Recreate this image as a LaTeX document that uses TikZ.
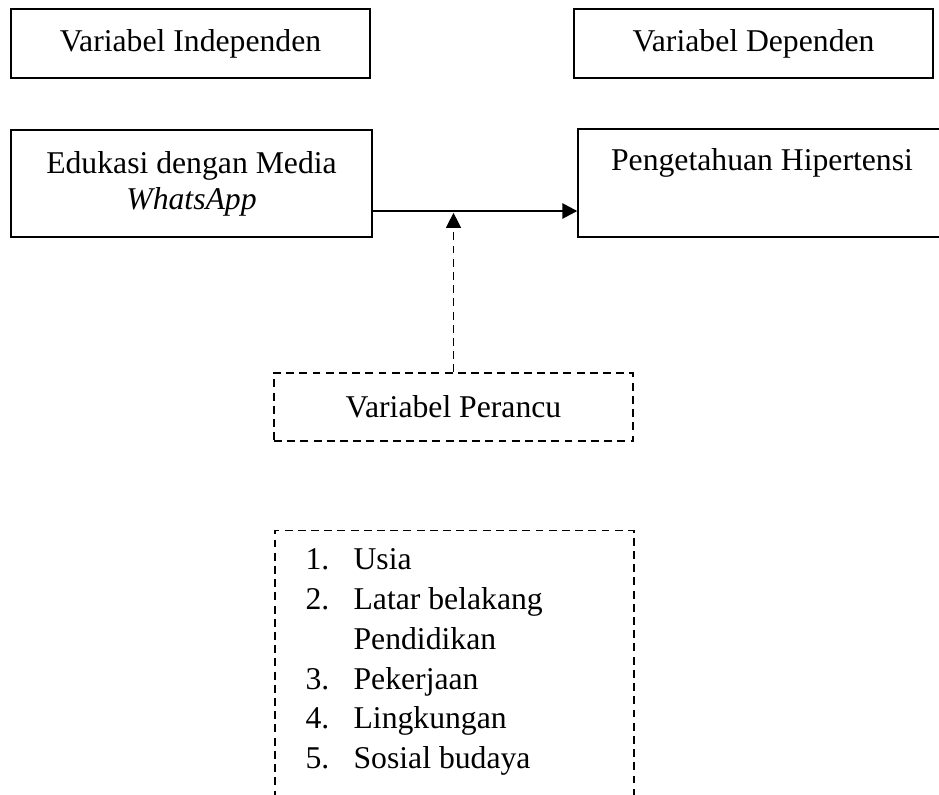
\documentclass[tikz,border=0pt]{standalone}
\usepackage{fontspec}
\setmainfont{Liberation Serif}
\usetikzlibrary{
    arrows.meta,
    calc
}
\newcommand{\sat}{0.3786pt}

\begin{document}
\begin{tikzpicture}[x=\sat, y=-\sat,
    garis/.style={draw, line width=0.5pt, inner sep=0pt, font=\fontsize{12}{13.6}\selectfont},
    kotak/.style={garis, align=center},
    putus/.style={kotak, dash pattern=on 3pt off 2pt},
    panah/.style={line width=1pt, -{Triangle[length=5.7pt, width=5.7pt]}}]
    \useasboundingbox (0, 0) rectangle (939, 794);
    \clip (0, 0) rectangle (939, 794);
    % variabel
    \node[kotak, minimum width=359*\sat, minimum height=69*\sat] (indep) at (190.5, 43.5) {Variabel Independen};
    \node[kotak, minimum width=359*\sat, minimum height=69*\sat] (dep) at (753.5, 43.5) {Variabel Dependen};
    \node[kotak, minimum width=361*\sat, minimum height=107*\sat] (edu) at (191.5, 183.5) {Edukasi dengan Media\\\textit{WhatsApp}};
    \node[garis, minimum width=368*\sat, minimum height=108*\sat,
        text height=8.2pt, text depth=17.3pt] (tahu) at (762, 183) {Pengetahuan Hipertensi};
    \node[putus, minimum width=359*\sat, minimum height=68*\sat] (rancu) at (453.5, 407) {Variabel Perancu};
    \node[putus, minimum width=359*\sat, minimum height=290*\sat, anchor=north] (faktor) at (454.5, 530) {};
    \node[anchor=north west, inner sep=0pt, font=\fontsize{12}{15.1}\selectfont] (daftar) at (305, 541) {%
        \begin{tabular}{@{}l@{}l@{}}
            \makebox[18.2pt][l]{1.} & Usia\\
            \makebox[18.2pt][l]{2.} & Latar belakang\\
                                    & Pendidikan\\
            \makebox[18.2pt][l]{3.} & Pekerjaan\\
            \makebox[18.2pt][l]{4.} & Lingkungan\\
            \makebox[18.2pt][l]{5.} & Sosial budaya
        \end{tabular}};
    % panah
    \coordinate (jalur) at (0, 211);
    \draw[panah] (edu.east |- jalur) -- (tahu.west |- jalur);
    \draw[panah, line width=0.5pt, dash pattern=on 3pt off 2pt, shorten >=0.7pt]
        (rancu.north) -- (rancu.north |- jalur);
\end{tikzpicture}
\end{document}
